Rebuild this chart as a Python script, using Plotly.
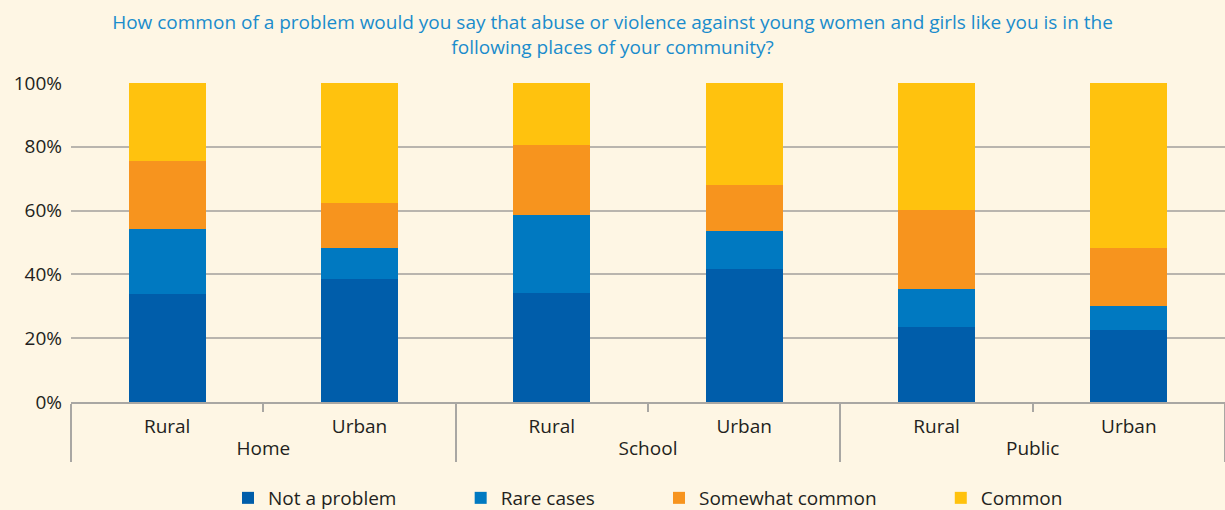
import plotly.graph_objects as go

places = ["Home", "Home", "School", "School", "Public", "Public"]
areas = ["Rural", "Urban", "Rural", "Urban", "Rural", "Urban"]

not_a_problem = [34.0, 38.6, 34.2, 41.8, 23.5, 22.6]
rare_cases = [20.1, 9.8, 24.5, 11.9, 12.0, 7.5]
somewhat_common = [21.6, 14.1, 22.0, 14.4, 24.8, 18.3]
common = [24.3, 37.5, 19.3, 31.9, 39.7, 51.6]

y_tick_values = [0, 20, 40, 60, 80, 100]
y_tick_labels = ["0%", "20%", "40%", "60%", "80%", "100%"]

series_names = ["Not a problem", "Rare cases", "Somewhat common", "Common"]
series_values = [not_a_problem, rare_cases, somewhat_common, common]
series_colors = ["#005DAA", "#0079C1", "#F7941E", "#FFC20E"]

bg = "#FEF6E4"
txt = "#231F20"
font = "Open Sans"
pad = "\u00a0" * 12

fig = go.Figure()
for i, (name, vals, col) in enumerate(zip(series_names, series_values, series_colors)):
    label = name + (pad if i < len(series_names) - 1 else "")
    fig.add_trace(go.Bar(
        x=[places, areas], y=vals, name=label,
        marker=dict(color=col, line=dict(width=0)),
    ))

fig.update_layout(
    barmode="stack",
    bargap=0.6,
    width=1225, height=510,
    paper_bgcolor=bg, plot_bgcolor=bg,
    margin=dict(l=71, r=0, t=83, b=108),
    font=dict(family=font, size=19, color=txt),
    title=dict(
        text="How common of a problem would you say that abuse or violence against young women and girls like you is in the<br>following places of your community?",
        x=0.5, xanchor="center", yref="container", y=1 - 29 / 510, yanchor="middle",
        font=dict(family=font, size=19, color="#1A8CCC"),
    ),
    legend=dict(orientation="h", x=0.5, xanchor="center", yref="container", y=31 / 510, yanchor="top",
                font=dict(size=19, color=txt), traceorder="normal", itemwidth=30,
                bgcolor="rgba(0,0,0,0)"),
    showlegend=True,
)
fig.update_yaxes(
    range=[0, 100], tickvals=y_tick_values, ticktext=y_tick_labels,
    showgrid=True, gridcolor="#B9B5AE", gridwidth=2,
    zeroline=False, showline=False, ticks="", ticklabelstandoff=8,
)
fig.update_xaxes(
    type="multicategory", showline=True, linecolor="#A9A7A3", linewidth=2,
    ticks="outside", tickson="boundaries", ticklen=8, tickcolor="#A9A7A3", tickwidth=1.5,
    showdividers=True, dividercolor="#A9A7A3", dividerwidth=1.5,
    showgrid=False, ticklabelstandoff=6,
)

fig.write_html("out.html", config={"displayModeBar": False},
               post_script="document.body.style.margin='0';document.body.style.padding='0';")
